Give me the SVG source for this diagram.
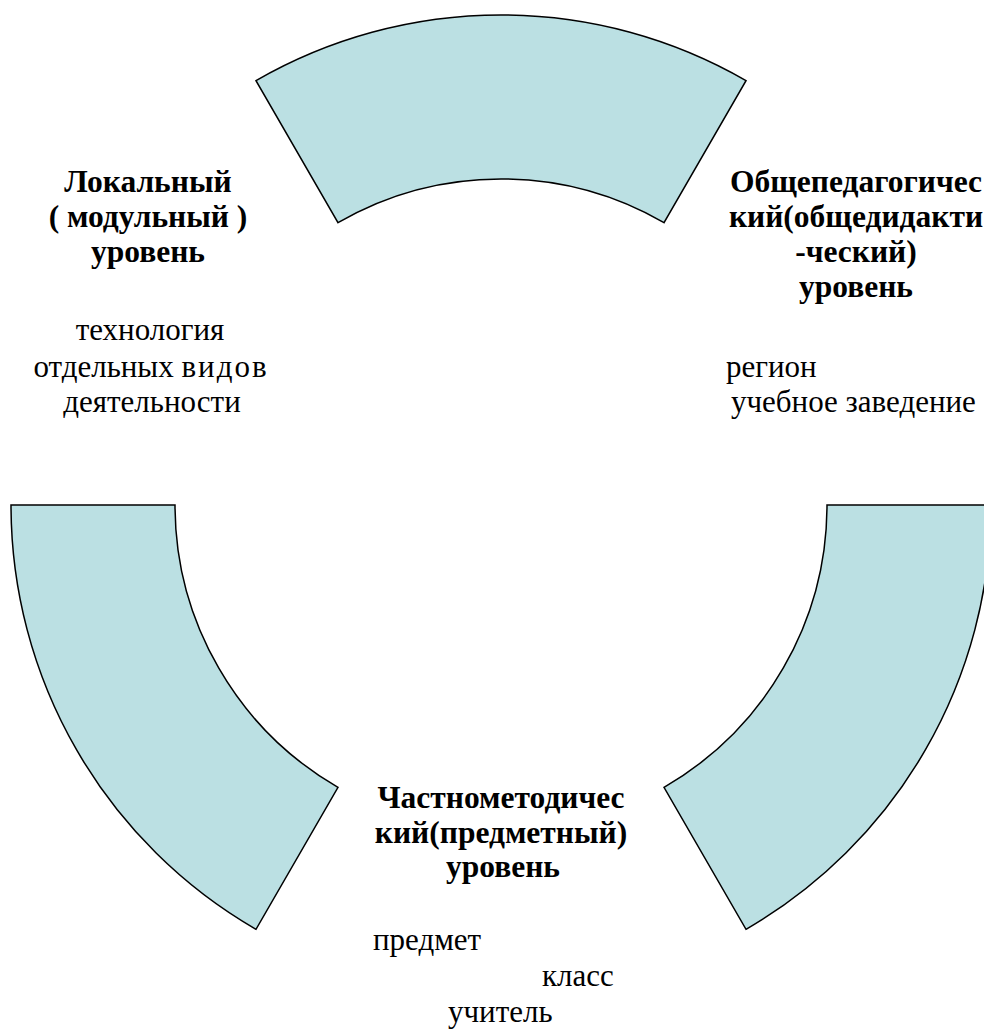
<svg xmlns="http://www.w3.org/2000/svg" width="984" height="1032" viewBox="0 0 984 1032">
<style>
.seg{fill:#BBE0E3;stroke:#000;stroke-width:1.5;stroke-linejoin:miter}
text{font-family:'Liberation Serif','Times New Roman','DejaVu Serif',serif;font-size:31px;fill:#000}
.b{font-weight:bold;font-size:31.5px}
.m{text-anchor:middle}
</style>
<rect width="984" height="1032" fill="#fff"/>
<g id="segments">
<g id="seg-top"><path class="seg" d="M256,80.65 A490,490 0 0 1 746,80.65 L664,222.68 A326,326 0 0 0 338,222.68 Z"/></g>
<g id="seg-left"><path class="seg" d="M11,505 L175,505 A326,326 0 0 0 338,787.32 L256,929.35 A490,490 0 0 1 11,505 Z"/></g>
<g id="seg-right"><path class="seg" d="M827,505 L991,505 A490,490 0 0 1 746,929.35 L664,787.32 A326,326 0 0 0 827,505 Z"/></g>
</g>
<g id="node-local">
<text class="b m" x="148" y="192">Локальный</text>
<text class="b m" x="148" y="227">( модульный )</text>
<text class="b m" x="148" y="262">уровень</text>
<text class="m" x="150" y="340">технология</text>
<text class="m" x="151" y="377">отдельных <tspan letter-spacing="2">видов</tspan></text>
<text class="m" x="152" y="412">деятельности</text>
</g>
<g id="node-general">
<text class="b m" x="856" y="192">Общепедагогичес</text>
<text class="b m" x="856" y="227">кий(общедидакти</text>
<text class="b m" x="856" y="262">-ческий)</text>
<text class="b m" x="856" y="297">уровень</text>
<text x="726" y="377">регион</text>
<text x="731" y="412">учебное заведение</text>
</g>
<g id="node-subject">
<text class="b m" x="501" y="808">Частнометодичес</text>
<text class="b m" x="501" y="843">кий(предметный)</text>
<text class="b m" x="503" y="877">уровень</text>
<text x="373" y="950">предмет</text>
<text x="542" y="986">класс</text>
<text x="448" y="1022">учитель</text>
</g>
<g id="connectors"></g>
</svg>
